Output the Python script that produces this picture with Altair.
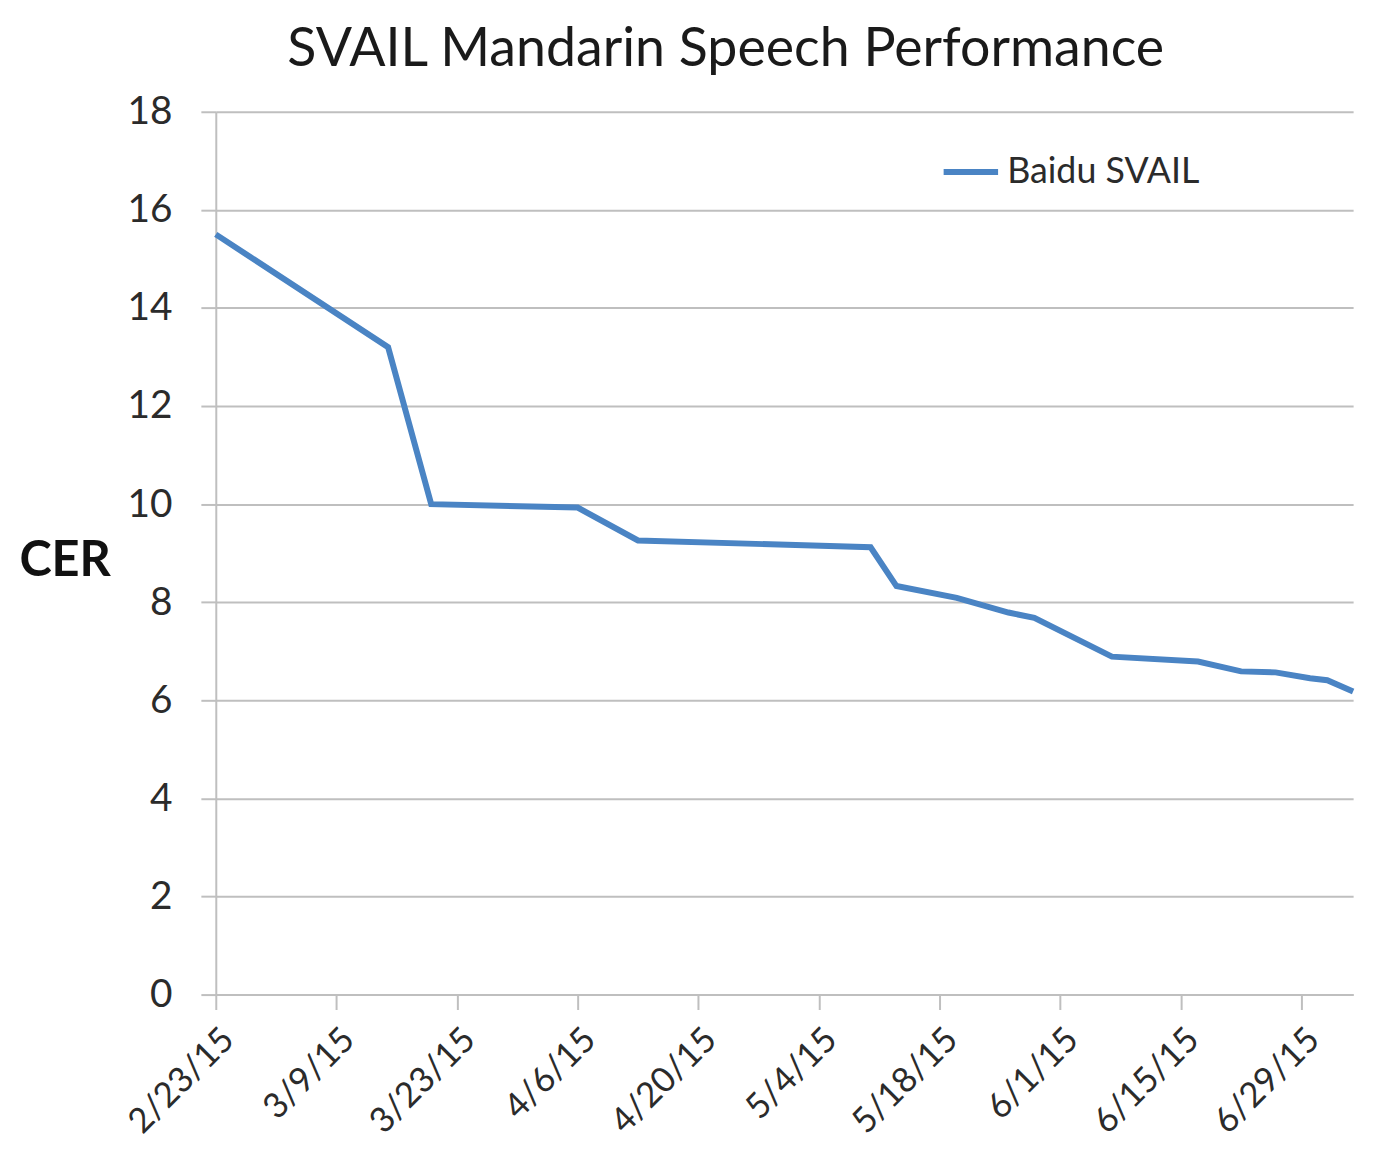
import altair as alt
import pandas as pd

# Data
dates = ["2015/02/23", "2015/03/15", "2015/03/20", "2015/04/06", "2015/04/13",
         "2015/05/10", "2015/05/13", "2015/05/20", "2015/05/26", "2015/05/29",
         "2015/06/07", "2015/06/17", "2015/06/22", "2015/06/26", "2015/06/30",
         "2015/07/02", "2015/07/05"]
cer = [15.5, 13.2, 10.0, 9.93, 9.26, 9.12, 8.33, 8.09, 7.79, 7.68,
       6.89, 6.79, 6.59, 6.57, 6.45, 6.41, 6.18]
series = ["Baidu SVAIL"] * len(dates)

tick_dates = [(2, 23), (3, 9), (3, 23), (4, 6), (4, 20), (5, 4), (5, 18), (6, 1), (6, 15), (6, 29)]
y_ticks = [0, 2, 4, 6, 8, 10, 12, 14, 16, 18]

df = pd.DataFrame({"date": [d + " 00:00" for d in dates], "CER": cer, "series": series})

FONT = "Lato"
GRID = "#bfbfbf"
TEXT = "#2b2b2b"
LINE = "#4a84c4"

chart = alt.Chart(df).mark_line(strokeWidth=6, color=LINE).encode(
    x=alt.X(
        "date:T",
        scale=alt.Scale(domain=[alt.DateTime(year=2015, month=2, date=23),
                                alt.DateTime(year=2015, month=7, date=5)]),
        axis=alt.Axis(
            values=[alt.DateTime(year=2015, month=m, date=d) for m, d in tick_dates],
            format="%-m/%-d/%y",
            labelAngle=-45,
            labelFontSize=35,
            labelFont=FONT,
            labelColor=TEXT,
            labelPadding=12,
            labelOverlap=False,
            labelBound=False,
            labelFlush=False,
            tickSize=15,
            tickWidth=2,
            tickColor=GRID,
            domainColor=GRID,
            domainWidth=2,
            grid=False,
            title=None,
        ),
    ),
    y=alt.Y(
        "CER:Q",
        scale=alt.Scale(domain=[0, 18], nice=False),
        axis=alt.Axis(
            values=y_ticks,
            labelFontSize=39,
            labelFont=FONT,
            labelColor=TEXT,
            labelPadding=29,
            tickSize=15,
            tickWidth=2,
            tickColor=GRID,
            domainColor=GRID,
            domainWidth=2,
            gridColor=GRID,
            gridWidth=2,
            title="CER",
            titleAngle=0,
            titleFontSize=49,
            titleFont=FONT,
            titleFontWeight="bold",
            titleColor="#111111",
            titleAlign="center",
            titleBaseline="middle",
            titleX=-152,
            titleY=451,
        ),
    ),
    color=alt.Color(
        "series:N",
        scale=alt.Scale(domain=["Baidu SVAIL"], range=[LINE]),
        legend=alt.Legend(
            title=None,
            orient="none",
            legendX=729,
            legendY=30,
            symbolType="stroke",
            symbolStrokeWidth=6,
            symbolSize=3000,
            labelFontSize=36,
            labelFont=FONT,
            labelColor=TEXT,
            labelOffset=6,
            labelLimit=0,
        ),
    ),
).properties(
    width=1144,
    height=888,
    title=alt.TitleParams(
        "SVAIL Mandarin Speech Performance",
        fontSize=54,
        font=FONT,
        fontWeight="normal",
        color="#1a1a1a",
        anchor="middle",
        dx=-59,
        offset=16,
    ),
    autosize=alt.AutoSizeParams(type="none"),
    padding={"left": 209, "top": 101, "right": 20, "bottom": 160},
).configure_view(stroke=None)

chart.save("out.html", embed_options={"renderer": "svg", "actions": False})
